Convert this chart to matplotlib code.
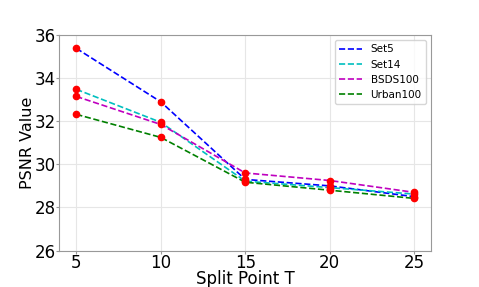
import numpy as np
import matplotlib
matplotlib.use('Agg')
import matplotlib.pyplot as plt

# split points and PSNR values
split_points = [5, 10, 15, 20, 25]
set5 = [35.38, 32.90, 29.30, 29.00, 28.50]
set14 = [33.48, 31.95, 29.22, 28.92, 28.62]
bsds100 = [33.15, 31.85, 29.60, 29.25, 28.70]
urban100 = [32.32, 31.25, 29.17, 28.80, 28.42]

series = [(set5, 'b', 'Set5'), (set14, 'c', 'Set14'),
          (bsds100, 'm', 'BSDS100'), (urban100, 'g', 'Urban100')]

fig = plt.figure(figsize=(4.79, 2.87), dpi=100)
ax = fig.add_axes([0.124, 0.127, 0.776, 0.751])

for vals, col, name in series:
    ax.plot(split_points, vals, '--', color=col, linewidth=1.2, label=name)
for vals, col, name in series:
    ax.plot(split_points, vals, 'o', color='red', markersize=4.5)

ax.set_xlim(4, 26)
ax.set_ylim(26, 36)
ax.set_xticks(split_points)
ax.set_yticks([26, 28, 30, 32, 34, 36])
ax.tick_params(labelsize=12, color='#999999', length=2, pad=0.5)
ax.set_xlabel('Split Point T', fontsize=12, labelpad=-1.5)
ax.set_ylabel('PSNR Value', fontsize=11.5, labelpad=0)
ax.grid(True, color='#e6e6e6', linewidth=0.8)
for sp in ax.spines.values():
    sp.set_color('#999999')

ax.legend(loc='upper right', fontsize=7.5, handlelength=2.2)

fig.savefig('out.png', dpi=100)
